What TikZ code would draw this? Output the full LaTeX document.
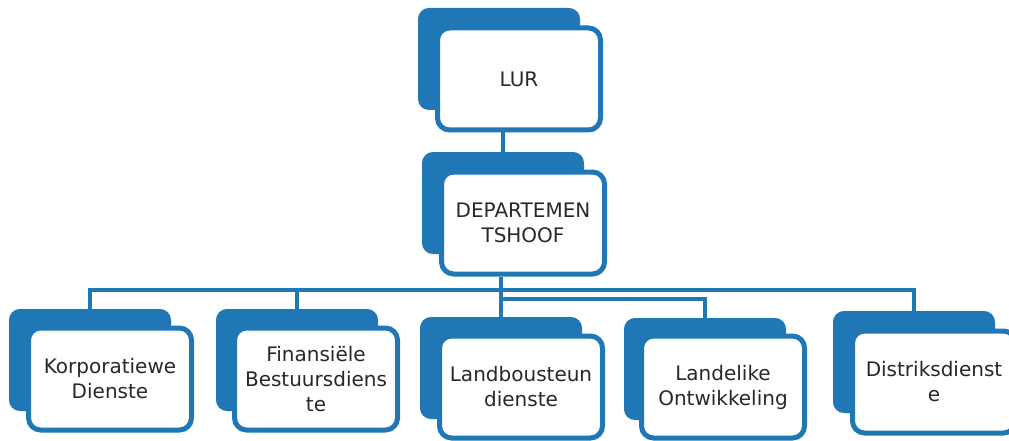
\documentclass[tikz,border=0pt]{standalone}
\usepackage{fontspec}
\setmainfont{DejaVu Sans}
\usetikzlibrary{positioning}
\definecolor{orgblue}{RGB}{31,119,182}
\definecolor{orgtext}{RGB}{40,40,40}

\begin{document}
\begin{tikzpicture}[x=1pt, y=-1pt,
        back/.style={fill=orgblue, draw=orgblue, line width=2pt, rounded corners=10pt,
        minimum width=160pt, minimum height=100pt, inner sep=0pt},
        front/.style={fill=white, draw=orgblue, line width=5pt, rounded corners=12pt,
        minimum width=163pt, minimum height=102pt, inner sep=0pt, align=center,
        text=orgtext, font=\fontsize{20}{25}\selectfont},
        link/.style={draw=orgblue, line width=4.5pt}]
        \useasboundingbox (0,0) rectangle (1009,441);
        \clip (0,0) rectangle (1009,441);
        \coordinate (bus) at (0,290);
        \coordinate (bus2) at (0,299);
        \node[back] (lurb) at (499,59) {};
        \node[front] (lur) at ([shift={(20,20)}]lurb) {LUR};
        \node[back] (deptb) at (503,203) {};
        \node[front] (dept) at ([shift={(20,20)}]deptb) {DEPARTEMEN\\TSHOOF};
        \node[back] (korpb) at (90,360) {};
        \node[front] (korp) at ([shift={(20,19)}]korpb) {Korporatiewe\\Dienste};
        \node[back] (finb) at (297,360) {};
        \node[front] (fin) at ([shift={(19,19)}]finb) {Finansiële\\Bestuursdiens\\te};
        \node[back] (landb) at (501,368) {};
        \node[front] (land) at ([shift={(20,19)}]landb) {Landbousteun\\dienste};
        \node[back] (ontwb) at (705,369) {};
        \node[front] (ontw) at ([shift={(18,18)}]ontwb) {Landelike\\Ontwikkeling};
        \node[back] (distb) at (914,362) {};
        \node[front] (dist) at ([shift={(20,20)}]distb) {Distriksdienst\\e};
        \draw[link] (deptb.north |- lur.south) -- (deptb.north);
        \draw[link] (landb.north |- dept.south) -- (landb.north);
        \draw[link] (korpb.north) -- (korpb.north |- bus) -| (distb.north);
        \draw[link] (finb.north |- bus) -- (finb.north);
        \draw[link] (landb.north |- bus2) -| (ontwb.north);
\end{tikzpicture}
\end{document}
